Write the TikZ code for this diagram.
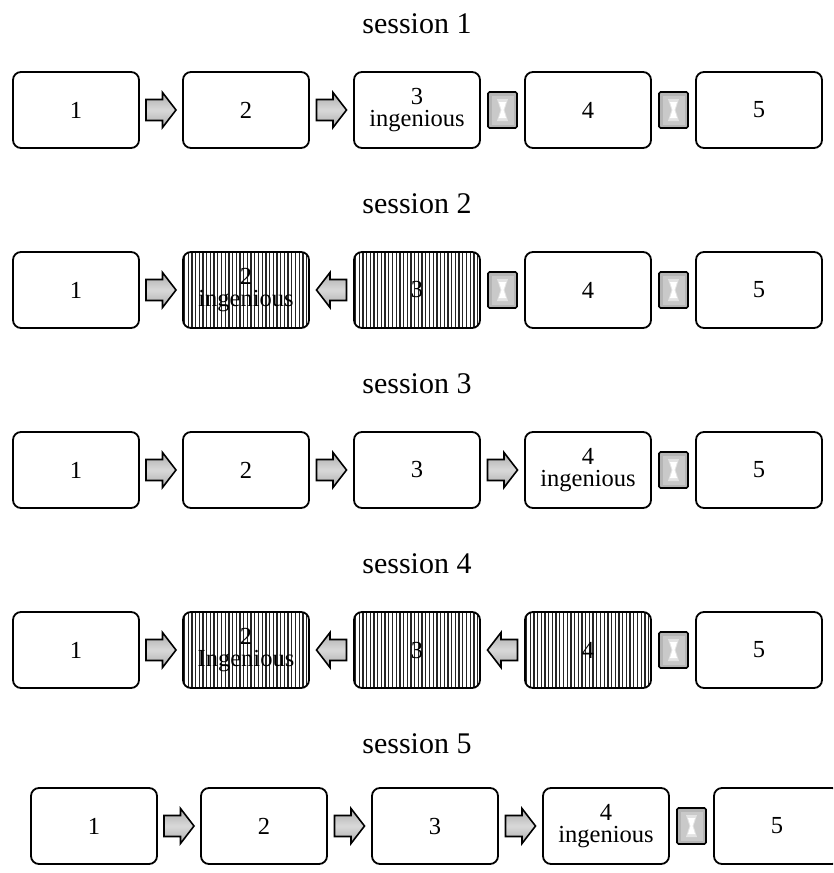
\documentclass[tikz,border=0pt]{standalone}
\usepackage{fontspec}
\setmainfont{Liberation Serif}
\begin{document}
\begin{tikzpicture}[x=1pt,y=-1pt,
  box/.style={draw, line width=1.8pt, rounded corners=8pt,
    minimum width=126pt, minimum height=76pt, inner sep=0pt,
    align=center, font=\fontsize{24.5}{22.5}\selectfont},
  hatched/.style={box, path picture={
    \foreach \i in {0,...,34}
      \draw[black!85, line width=1.3pt]
        ([xshift=1.5pt+\i*3.7pt]path picture bounding box.south west) --
        ([xshift=1.5pt+\i*3.7pt]path picture bounding box.north west);}},
  title/.style={font=\fontsize{30}{36}\selectfont, anchor=base},
  arrowbody/.style={draw, line width=1.6pt, line join=miter,
    top color=gray!65, bottom color=gray!65, middle color=gray!30},
  rarrow/.pic={
    \path[arrowbody]
      (-15,-10.5) -- (1.5,-10.5) -- (1.5,-17.5) -- (15,0) -- (1.5,17.5)
      -- (1.5,10.5) -- (-15,10.5) -- cycle;},
  larrow/.pic={
    \path[arrowbody]
      (15,-10.5) -- (-1.5,-10.5) -- (-1.5,-17.5) -- (-15,0) -- (-1.5,17.5)
      -- (-1.5,10.5) -- (15,10.5) -- cycle;},
  stopbox/.pic={
    \fill[gray!58] (-14.5,-18) rectangle (14.5,18);
    \fill[gray!42] (-11,-14.5) rectangle (11,14.5);
    \fill[gray!22] (-5.5,-11) -- (5.5,-11) -- (2,0) -- (5.5,11)
      -- (-5.5,11) -- (-2,0) -- cycle;
    \fill[white] (-3.5,-8) -- (3.5,-8) -- (1,0) -- (3.5,8)
      -- (-3.5,8) -- (-1,0) -- cycle;
    \draw[line width=1.7pt, rounded corners=1.5pt]
      (-14.5,-18) rectangle (14.5,18);}
]
\clip (0,0) rectangle (833,873);

% ---------- session 1 ----------
\node[title] (s1) at (417,33) {session 1};
\node[box] (a1) at (76,110) {1};
\node[box] (a2) at (246,110) {2};
\node[box] (a3) at (417,110) {3\\ingenious};
\node[box] (a4) at (588,110) {4};
\node[box] (a5) at (759,110) {5};
\path (a1.east) -- coordinate[midway] (ag1) (a2.west);
\path (a2.east) -- coordinate[midway] (ag2) (a3.west);
\path (a3.east) -- coordinate[midway] (ag3) (a4.west);
\path (a4.east) -- coordinate[midway] (ag4) (a5.west);
\pic at (ag1) {rarrow};
\pic at (ag2) {rarrow};
\pic at (ag3) {stopbox};
\pic at (ag4) {stopbox};

% ---------- session 2 ----------
\node[title] (s2) at (417,213) {session 2};
\node[box] (b1) at (76,290) {1};
\node[hatched] (b2) at (246,290) {2\\ingenious};
\node[hatched] (b3) at (417,290) {3};
\node[box] (b4) at (588,290) {4};
\node[box] (b5) at (759,290) {5};
\path (b1.east) -- coordinate[midway] (bg1) (b2.west);
\path (b2.east) -- coordinate[midway] (bg2) (b3.west);
\path (b3.east) -- coordinate[midway] (bg3) (b4.west);
\path (b4.east) -- coordinate[midway] (bg4) (b5.west);
\pic at (bg1) {rarrow};
\pic at (bg2) {larrow};
\pic at (bg3) {stopbox};
\pic at (bg4) {stopbox};

% ---------- session 3 ----------
\node[title] (s3) at (417,393) {session 3};
\node[box] (c1) at (76,470) {1};
\node[box] (c2) at (246,470) {2};
\node[box] (c3) at (417,470) {3};
\node[box] (c4) at (588,470) {4\\ingenious};
\node[box] (c5) at (759,470) {5};
\path (c1.east) -- coordinate[midway] (cg1) (c2.west);
\path (c2.east) -- coordinate[midway] (cg2) (c3.west);
\path (c3.east) -- coordinate[midway] (cg3) (c4.west);
\path (c4.east) -- coordinate[midway] (cg4) (c5.west);
\pic at (cg1) {rarrow};
\pic at (cg2) {rarrow};
\pic at (cg3) {rarrow};
\pic at (cg4) {stopbox};

% ---------- session 4 ----------
\node[title] (s4) at (417,573) {session 4};
\node[box] (d1) at (76,650) {1};
\node[hatched] (d2) at (246,650) {2\\Ingenious};
\node[hatched] (d3) at (417,650) {3};
\node[hatched] (d4) at (588,650) {4};
\node[box] (d5) at (759,650) {5};
\path (d1.east) -- coordinate[midway] (dg1) (d2.west);
\path (d2.east) -- coordinate[midway] (dg2) (d3.west);
\path (d3.east) -- coordinate[midway] (dg3) (d4.west);
\path (d4.east) -- coordinate[midway] (dg4) (d5.west);
\pic at (dg1) {rarrow};
\pic at (dg2) {larrow};
\pic at (dg3) {larrow};
\pic at (dg4) {stopbox};

% ---------- session 5 ----------
\node[title] (s5) at (417,753) {session 5};
\node[box] (e1) at (94,826) {1};
\node[box] (e2) at (264,826) {2};
\node[box] (e3) at (435,826) {3};
\node[box] (e4) at (606,826) {4\\ingenious};
\node[box] (e5) at (777,826) {5};
\path (e1.east) -- coordinate[midway] (eg1) (e2.west);
\path (e2.east) -- coordinate[midway] (eg2) (e3.west);
\path (e3.east) -- coordinate[midway] (eg3) (e4.west);
\path (e4.east) -- coordinate[midway] (eg4) (e5.west);
\pic at (eg1) {rarrow};
\pic at (eg2) {rarrow};
\pic at (eg3) {rarrow};
\pic at (eg4) {stopbox};
\end{tikzpicture}
\end{document}
